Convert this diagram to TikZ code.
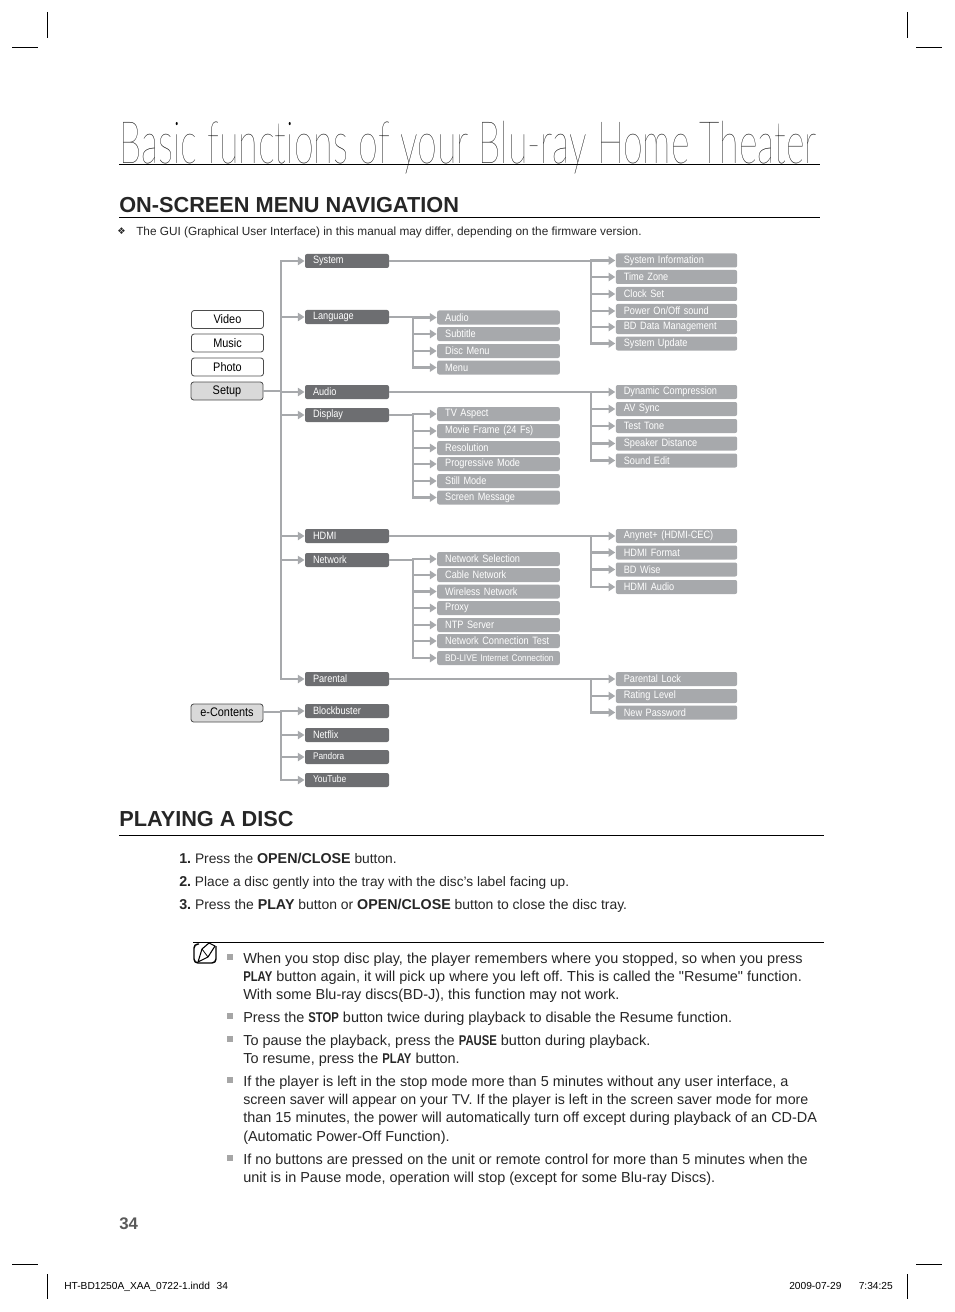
\documentclass[tikz,border=0pt]{standalone}
\usepackage{fontspec}
\setmainfont{Liberation Sans}
\newfontfamily\condfont[FakeStretch=0.88, WordSpace=0.8]{Liberation Sans}
\newfontfamily\labelfont[FakeStretch=0.86, WordSpace=0.6]{Liberation Sans}
\newfontfamily\titlefont[FakeStretch=0.61, Ligatures=NoCommon]{Lato Hairline}
\newfontfamily\symfont{DejaVu Sans}
\newfontfamily\straightfont{Liberation Sans}
\usetikzlibrary{arrows.meta, positioning}
\definecolor{linkgray}{HTML}{A7A9AC}
\definecolor{darkbox}{HTML}{6D6E71}
\definecolor{pagetext}{HTML}{262626}
\newcommand{\keyword}[1]{{\fontsize{10.6pt}{12pt}\selectfont\condfont\bfseries\addfontfeature{FakeStretch=0.8}#1}}
\newcommand{\stepkey}[1]{{\fontsize{10.7pt}{12pt}\selectfont\bfseries #1}}
\newcommand{\uplabel}[1]{\raisebox{1pt}{#1}}
\tikzset{
  mainbtn/.style={draw=black!70, rounded corners=2pt, line width=0.6pt, minimum width=54pt, minimum height=13.5pt, inner sep=0pt, font=\condfont\fontsize{9.3pt}{10pt}\selectfont},
  secondbox/.style={fill=darkbox, rounded corners=1.5pt, minimum height=10.5pt, inner sep=0pt, text width=63pt-12pt, inner xsep=6pt, text=white, align=left, font=\labelfont\fontsize{8pt}{9pt}\selectfont},
  thirdbox/.style={fill=linkgray, rounded corners=1.5pt, minimum height=10.5pt, inner sep=0pt, text width=92pt-12pt, inner xsep=6pt, text=white, align=left, font=\labelfont\fontsize{8pt}{9pt}\selectfont},
  sidebox/.style={thirdbox, text width=91pt-12pt},
  link/.style={color=linkgray, line width=1.7pt},
  arrowlink/.style={link, -{Triangle[length=5pt, width=6.2pt]}, shorten >=0.2pt},
  cropmark/.style={line width=0.5pt},
  headline/.style={anchor=base west, inner sep=0pt, text=pagetext, font=\bfseries\fontsize{16.3pt}{18pt}\selectfont},
  stepline/.style={anchor=base west, inner sep=0pt, text=pagetext, font=\fontsize{10.35pt}{12pt}\selectfont},
  bodyline/.style={anchor=base west, inner sep=0pt, text=pagetext, font=\fontsize{10.85pt}{12pt}\selectfont},
  bulletmark/.style={fill=black!35, minimum size=3.8pt, inner sep=0pt},
  footline/.style={anchor=base west, inner sep=0pt, font=\fontsize{7.65pt}{8pt}\selectfont}
}
\begin{document}
\frenchspacing
\begin{tikzpicture}[x=0.75pt, y=-0.75pt, >=Stealth]
  \useasboundingbox (0,0) rectangle (954,1312);
  % crop marks
  \draw[cropmark] (12,47) -- (38,47);
  \draw[cropmark] (47,12) -- (47,38);
  \draw[cropmark] (916,47) -- (942,47);
  \draw[cropmark] (907,12) -- (907,38);
  \draw[cropmark] (12,1264) -- (38,1264);
  \draw[cropmark] (47,1274) -- (47,1299);
  \draw[cropmark] (916,1264) -- (942,1264);
  \draw[cropmark] (907,1274) -- (907,1299);

  % headings
  \node[anchor=base west, inner sep=0pt, font=\titlefont\fontsize{44pt}{46pt}\selectfont] (title) at (119,164) {Basic functions of your Blu-ray Home Theater};
  \draw[line width=0.6pt] (119,164) -- (820,164);
  \node[headline] (navhead) at (119,213) {ON-SCREEN MENU NAVIGATION};
  \draw[line width=0.6pt] (119,217) -- (820,217);
  \node[stepline, font=\symfont\fontsize{7pt}{8pt}\selectfont] (guimark) at (117,235) {❖};
  \node[stepline, font=\fontsize{8.86pt}{10pt}\selectfont] (guinote) at (136,236) {The GUI (Graphical User Interface) in this manual may differ, depending on the firmware version.};

  % main menu
  \node[mainbtn] (video) at (227.5,319.5) {\uplabel{Video}};
  \node[mainbtn] (music) at (227.5,343) {Music};
  \node[mainbtn] (photo) at (227.5,367) {Photo};
  \node[mainbtn, fill=black!15] (setup) at (227,391) {Setup};
  \node[mainbtn, fill=black!15] (econtents) at (227,713) {\uplabel{e-Contents}};

  % second level
  \node[secondbox] (system) at (347,261) {\uplabel{System}};
  \node[secondbox] (language) at (347,317) {\uplabel{Language}};
  \node[secondbox] (audio) at (347,392) {Audio};
  \node[secondbox] (display) at (347,415) {Display};
  \node[secondbox] (hdmi) at (347,536) {HDMI};
  \node[secondbox] (network) at (347,560) {Network};
  \node[secondbox] (parental) at (347,679) {\uplabel{Parental}};
  \node[secondbox] (blockbuster) at (347,711) {\uplabel{Blockbuster}};
  \node[secondbox] (netflix) at (347,735) {\uplabel{Netflix}};
  \node[secondbox, font=\labelfont\fontsize{7.2pt}{9pt}\selectfont] (pandora) at (347,757) {\uplabel{Pandora}};
  \node[secondbox, font=\labelfont\fontsize{7.4pt}{9pt}\selectfont] (youtube) at (347,780) {\uplabel{YouTube}};

  % language and display items
  \node[thirdbox] (langaudio) at (498.5,317.5) {Audio};
  \node[thirdbox] (subtitle) at (498.5,334) {Subtitle};
  \node[thirdbox] (discmenu) at (498.5,351) {Disc Menu};
  \node[thirdbox] (menu) at (498.5,367.5) {Menu};
  \node[thirdbox] (tvaspect) at (498.5,414) {TV Aspect};
  \node[thirdbox] (movieframe) at (498.5,431) {Movie Frame (24 Fs)};
  \node[thirdbox] (resolution) at (498.5,448) {Resolution};
  \node[thirdbox] (progressive) at (498.5,464) {Progressive Mode};
  \node[thirdbox] (stillmode) at (498.5,481) {Still Mode};
  \node[thirdbox] (screenmsg) at (498.5,497.5) {Screen Message};

  % network items
  \node[thirdbox] (netselect) at (498.5,559) {Network Selection};
  \node[thirdbox] (cablenet) at (498.5,575) {Cable Network};
  \node[thirdbox] (wirelessnet) at (498.5,591.5) {Wireless Network};
  \node[thirdbox] (proxy) at (498.5,608) {\uplabel{Proxy}};
  \node[thirdbox] (ntpserver) at (498.5,625) {NTP Server};
  \node[thirdbox] (nettest) at (498.5,641) {Network Connection Test};
  \node[thirdbox, font=\labelfont\fontsize{7.2pt}{9pt}\selectfont] (bdlive) at (498.5,658) {\mbox{BD-LIVE Internet Connection}};

  % right column
  \node[sidebox] (sysinfo) at (676.5,260.5) {System Information};
  \node[sidebox] (timezone) at (676.5,277) {Time Zone};
  \node[sidebox] (clockset) at (676.5,294) {Clock Set};
  \node[sidebox] (poweronoff) at (676.5,311) {Power On/Off sound};
  \node[sidebox] (bddata) at (676.5,327) {BD Data Management};
  \node[sidebox] (sysupdate) at (676.5,343.5) {System Update};
  \node[sidebox] (dyncomp) at (676.5,392) {Dynamic Compression};
  \node[sidebox] (avsync) at (676.5,409) {AV Sync};
  \node[sidebox] (testtone) at (676.5,426) {Test Tone};
  \node[sidebox] (speakerdist) at (676.5,443.5) {Speaker Distance};
  \node[sidebox] (soundedit) at (676.5,460.5) {Sound Edit};
  \node[sidebox] (anynet) at (676.5,536) {Anynet+ (HDMI-CEC)};
  \node[sidebox] (hdmiformat) at (676.5,552.5) {HDMI Format};
  \node[sidebox] (bdwise) at (676.5,569.5) {BD Wise};
  \node[sidebox] (hdmiaudio) at (676.5,587) {HDMI Audio};
  \node[sidebox] (parentlock) at (676.5,679) {Parental Lock};
  \node[sidebox] (ratinglevel) at (676.5,696) {Rating Level};
  \node[sidebox] (newpassword) at (676.5,712.5) {New Password};

  % junctions
  \coordinate (setupjoin) at (281,391);
  \coordinate (contentjoin) at (281,712);
  \coordinate (languagejoin) at (413,317);
  \coordinate (displayjoin) at (413,415);
  \coordinate (networkjoin) at (413,560);
  \coordinate (systemjoin) at (591,261);
  \coordinate (audiojoin) at (591,392);
  \coordinate (hdmijoin) at (591,536);
  \coordinate (parentaljoin) at (591,679);

  % connectors of the main menu
  \draw[link] (setup.east |- setupjoin) -- (setupjoin);
  \draw[arrowlink] (setupjoin) |- (system);
  \draw[arrowlink] (setupjoin) |- (language);
  \draw[arrowlink] (setupjoin) |- (audio);
  \draw[arrowlink] (setupjoin) |- (display);
  \draw[arrowlink] (setupjoin) |- (hdmi);
  \draw[arrowlink] (setupjoin) |- (network);
  \draw[arrowlink] (setupjoin) |- (parental);
  \draw[link] (econtents.east |- contentjoin) -- (contentjoin);
  \draw[arrowlink] (contentjoin) |- (blockbuster);
  \draw[arrowlink] (contentjoin) |- (netflix);
  \draw[arrowlink] (contentjoin) |- (pandora);
  \draw[arrowlink] (contentjoin) |- (youtube);

  % connectors of the middle column
  \draw[link] (language) -- (languagejoin);
  \draw[arrowlink] (languagejoin) |- (langaudio);
  \draw[arrowlink] (languagejoin) |- (subtitle);
  \draw[arrowlink] (languagejoin) |- (discmenu);
  \draw[arrowlink] (languagejoin) |- (menu);
  \draw[link] (display) -- (displayjoin);
  \draw[arrowlink] (displayjoin) |- (tvaspect);
  \draw[arrowlink] (displayjoin) |- (movieframe);
  \draw[arrowlink] (displayjoin) |- (resolution);
  \draw[arrowlink] (displayjoin) |- (progressive);
  \draw[arrowlink] (displayjoin) |- (stillmode);
  \draw[arrowlink] (displayjoin) |- (screenmsg);
  \draw[link] (network) -- (networkjoin);
  \draw[arrowlink] (networkjoin) |- (netselect);
  \draw[arrowlink] (networkjoin) |- (cablenet);
  \draw[arrowlink] (networkjoin) |- (wirelessnet);
  \draw[arrowlink] (networkjoin) |- (proxy);
  \draw[arrowlink] (networkjoin) |- (ntpserver);
  \draw[arrowlink] (networkjoin) |- (nettest);
  \draw[arrowlink] (networkjoin) |- (bdlive);

  % connectors of the right column
  \draw[link] (system) -- (systemjoin);
  \draw[arrowlink] (systemjoin) |- (sysinfo);
  \draw[arrowlink] (systemjoin) |- (timezone);
  \draw[arrowlink] (systemjoin) |- (clockset);
  \draw[arrowlink] (systemjoin) |- (poweronoff);
  \draw[arrowlink] (systemjoin) |- (bddata);
  \draw[arrowlink] (systemjoin) |- (sysupdate);
  \draw[link] (audio) -- (audiojoin);
  \draw[arrowlink] (audiojoin) |- (dyncomp);
  \draw[arrowlink] (audiojoin) |- (avsync);
  \draw[arrowlink] (audiojoin) |- (testtone);
  \draw[arrowlink] (audiojoin) |- (speakerdist);
  \draw[arrowlink] (audiojoin) |- (soundedit);
  \draw[link] (hdmi) -- (hdmijoin);
  \draw[arrowlink] (hdmijoin) |- (anynet);
  \draw[arrowlink] (hdmijoin) |- (hdmiformat);
  \draw[arrowlink] (hdmijoin) |- (bdwise);
  \draw[arrowlink] (hdmijoin) |- (hdmiaudio);
  \draw[link] (parental) -- (parentaljoin);
  \draw[arrowlink] (parentaljoin) |- (parentlock);
  \draw[arrowlink] (parentaljoin) |- (ratinglevel);
  \draw[arrowlink] (parentaljoin) |- (newpassword);

  % playing a disc
  \node[headline] (playhead) at (119,826) {PLAYING A DISC};
  \draw[line width=0.6pt] (119,835) -- (824,835);
  \node[stepline] (stepone) at (179,863) {\stepkey{1.} Press the \stepkey{OPEN/CLOSE} button.};
  \node[stepline, font=\fontsize{10.27pt}{12pt}\selectfont] (steptwo) at (179,886) {\stepkey{2.} Place a disc gently into the tray with the disc’s label facing up.};
  \node[stepline, font=\fontsize{10.45pt}{12pt}\selectfont] (stepthree) at (179,909) {\stepkey{3.} Press the \stepkey{PLAY} button or \stepkey{OPEN/CLOSE} button to close the disc tray.};

  % note block
  \draw[line width=0.6pt] (193,942) -- (824,942);
  \draw[line width=1.1pt, rounded corners=3pt] (199,944) -- (194,944) -- (194,963) -- (216,963) -- (216,946);
  \draw[line width=0.8pt, line join=round] (198,962) -- (202,949) -- (209,943) -- (215,946) -- (208,957) -- cycle;
  \draw[line width=0.6pt] (202,949) -- (208,957);
  \node[bulletmark] (bulletone) at (230,957) {};
  \node[bodyline] (noteonea) at (243,963) {When you stop disc play, the player remembers where you stopped, so when you press};
  \node[bodyline] (noteoneb) at (243,981) {\keyword{PLAY} button again, it will pick up where you left off. This is called the {\straightfont"}Resume{\straightfont"} function.};
  \node[bodyline] (noteonec) at (243,999) {With some Blu-ray discs(BD-J), this function may not work.};
  \node[bulletmark] (bullettwo) at (230,1016) {};
  \node[bodyline] (notetwo) at (243,1022) {Press the \keyword{STOP} button twice during playback to disable the Resume function.};
  \node[bulletmark] (bulletthree) at (230,1039) {};
  \node[bodyline] (notethreea) at (243,1045) {To pause the playback, press the \keyword{PAUSE} button during playback.};
  \node[bodyline] (notethreeb) at (243,1063) {To resume, press the \keyword{PLAY} button.};
  \node[bulletmark] (bulletfour) at (230,1080) {};
  \node[bodyline] (notefoura) at (243,1086) {If the player is left in the stop mode more than 5 minutes without any user interface, a};
  \node[bodyline, font=\fontsize{10.66pt}{12pt}\selectfont] (notefourb) at (243,1104) {screen saver will appear on your TV. If the player is left in the screen saver mode for more};
  \node[bodyline] (notefourc) at (243,1122) {than 15 minutes, the power will automatically turn off except during playback of an CD-DA};
  \node[bodyline] (notefourd) at (243,1141) {(Automatic Power-Off Function).};
  \node[bulletmark] (bulletfive) at (230,1158) {};
  \node[bodyline] (notefivea) at (243,1164) {If no buttons are pressed on the unit or remote control for more than 5 minutes when the};
  \node[bodyline] (notefiveb) at (243,1182) {unit is in Pause mode, operation will stop (except for some Blu-ray Discs).};

  % page foot
  \node[anchor=base west, inner sep=0pt, text=black!65, font=\bfseries\fontsize{12.6pt}{14pt}\selectfont] (pagenum) at (119,1229) {34};
  \node[footline] (footfile) at (64,1289) {HT-BD1250A\_XAA\_0722-1.indd\hspace{5pt}34};
  \node[footline] (footdate) at (789,1289) {2009-07-29\hspace{13pt}7:34:25};
\end{tikzpicture}
\end{document}
